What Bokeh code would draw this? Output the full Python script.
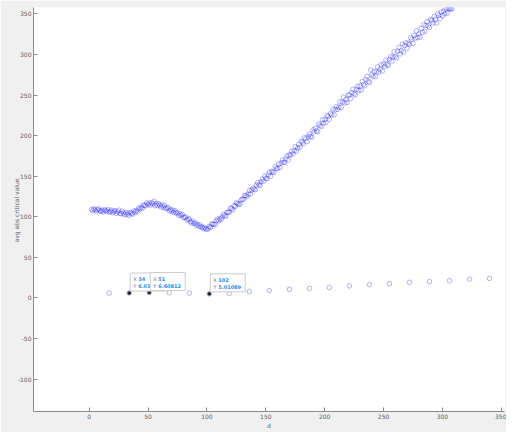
from bokeh.plotting import figure
from bokeh.models import FixedTicker
from bokeh.embed import file_html
from bokeh.resources import INLINE
from bokeh.core.properties import value

# ---------------- data ----------------
crit_vals = [
    109.2, 107.6, 109.7, 108.5, 106.8, 108.9, 109.7, 107.4, 106.7, 108.1,
    105.9, 108.6, 107.7, 106.7, 109.1, 105.8, 106.7, 108.2, 105.0, 106.9,
    107.4, 104.2, 106.2, 108.2, 104.5, 103.7, 106.8, 104.5, 102.6, 105.3,
    102.8, 104.7, 101.8, 105.2, 104.2, 103.3, 107.1, 105.4, 107.9, 106.6,
    110.5, 109.3, 111.8, 110.5, 114.3, 114.3, 113.5, 117.0, 115.1, 116.9,
    114.3, 117.3, 115.9, 119.0, 113.7, 116.3, 113.8, 116.1, 114.5, 111.9,
    114.5, 111.8, 113.8, 110.0, 110.8, 111.4, 107.3, 108.9, 106.9, 108.3,
    105.2, 107.4, 104.7, 105.1, 101.8, 103.7, 101.5, 102.9, 99.0, 99.7,
    99.5, 96.1, 97.2, 97.2, 93.9, 92.2, 94.3, 91.9, 92.3, 89.6,
    90.8, 88.2, 89.9, 87.2, 87.6, 85.3, 86.8, 85.2, 84.3, 85.6,
    88.0, 87.1, 91.3, 90.8, 90.9, 90.6, 95.2, 97.1, 95.1, 97.7,
    96.8, 100.0, 103.1, 101.2, 100.8, 105.5, 105.8, 105.5, 110.6, 110.2,
    108.4, 113.6, 112.8, 117.3, 116.4, 115.2, 115.7, 120.9, 121.3, 121.6,
    126.2, 126.1, 124.8, 127.8, 132.5, 128.2, 132.9, 135.4, 133.9, 133.3,
    138.9, 142.1, 139.6, 138.6, 143.2, 146.2, 143.7, 150.3, 147.7, 147.1,
    151.4, 154.8, 149.9, 156.1, 155.3, 154.7, 162.2, 159.9, 159.6, 164.9,
    160.7, 166.4, 170.0, 167.1, 166.8, 171.4, 174.9, 170.1, 176.5, 176.1,
    180.8, 177.6, 181.5, 186.6, 180.8, 184.8, 188.9, 185.7, 193.3, 191.9,
    189.9, 197.5, 196.3, 192.6, 198.6, 201.6, 199.0, 198.1, 207.2, 204.8,
    208.9, 205.9, 204.9, 214.2, 212.4, 211.2, 219.5, 215.7, 219.6, 216.1,
    224.8, 223.4, 220.3, 227.3, 225.8, 232.9, 225.7, 232.1, 235.7, 232.3,
    235.1, 241.8, 234.8, 241.3, 247.5, 240.3, 244.6, 241.0, 250.2, 250.0,
    245.7, 253.1, 257.3, 251.7, 250.4, 257.0, 261.0, 255.8, 261.1, 256.1,
    266.9, 263.3, 261.5, 269.3, 273.2, 267.0, 265.6, 281.0, 274.9, 272.9,
    279.2, 272.8, 278.9, 284.7, 278.2, 281.8, 287.5, 279.7, 288.3, 285.4,
    293.4, 287.7, 286.3, 293.9, 297.7, 291.8, 297.0, 303.4, 297.3, 295.7,
    304.2, 308.8, 300.8, 304.7, 313.1, 303.0, 311.1, 314.5, 307.8, 313.9,
    312.5, 320.9, 318.8, 313.6, 323.5, 320.2, 329.0, 320.9, 325.6, 321.5,
    332.2, 327.4, 336.8, 328.7, 335.9, 340.4, 335.3, 333.3, 342.9, 341.8,
    338.9, 346.9, 343.4, 338.8, 350.4, 348.2, 344.2, 352.5, 347.9, 353.6,
    350.2, 356.3, 351.3, 356.6, 356.4, 356.1, 356.5,
]
crit_d = list(range(2, 2 + len(crit_vals)))

sparse_d = [17, 34, 51, 68, 85, 102, 119, 136, 153, 170,
            187, 204, 221, 238, 255, 272, 289, 306, 323, 340]
sparse_vals = [6.02, 6.03179, 6.60812, 6.41, 6.05, 5.01089, 5.52, 7.9, 9.1, 10.6,
               11.7, 13.0, 14.8, 16.4, 17.6, 19.2, 20.1, 21.2, 23.1, 24.0]

tip_d = [34, 51, 102]
tip_v = [6.03179, 6.60812, 5.01089]

x_ticks = [0, 50, 100, 150, 200, 250, 300, 350]
y_ticks = [-100, -50, 0, 50, 100, 150, 200, 250, 300, 350]

x_label = "d"
y_label = "avg abs critical value."

# ---------------- layout ----------------
X0, X1 = -47.3, 352.7
Y0, Y1 = -140.0, 358.0
W, H = 506, 432
ML, MR, MT, MB = 33, 2, 7, 21
FW = W - ML - MR
FH = H - MT - MB
SX = FW / (X1 - X0)   # px per x unit
SY = FH / (Y1 - Y0)   # px per y unit

FONT = "DejaVu Sans"
AXC = "#8a8a8a"
TXC = "#606060"

p = figure(width=W, height=H, x_range=(X0, X1), y_range=(Y0, Y1),
           output_backend="svg", toolbar_location=None,
           min_border_left=ML, min_border_right=MR,
           min_border_top=MT, min_border_bottom=MB)
p.border_fill_color = "#f0f0f0"
p.background_fill_color = "white"
p.outline_line_color = None
p.grid.visible = False

for ax in (p.xaxis[0], p.yaxis[0]):
    ax.axis_line_color = AXC
    ax.axis_line_width = 1
    ax.major_tick_line_color = AXC
    ax.major_tick_in = 4
    ax.major_tick_out = 0
    ax.minor_tick_line_color = None
    ax.major_label_text_font = FONT
    ax.major_label_text_font_size = "6px"
    ax.major_label_text_color = TXC
    ax.axis_label_text_font = FONT
    ax.axis_label_text_font_size = "6px"
    ax.axis_label_text_font_style = "normal"
    ax.axis_label_text_color = TXC

p.xaxis.ticker = FixedTicker(ticks=x_ticks)
p.yaxis.ticker = FixedTicker(ticks=y_ticks)
p.xaxis.major_label_overrides = {t: str(t) for t in x_ticks}
p.yaxis.major_label_overrides = {t: str(t) for t in y_ticks}
p.xaxis.major_label_standoff = 2
p.yaxis.major_label_standoff = 2
p.xaxis.axis_label = x_label
p.yaxis.axis_label = y_label
p.xaxis.axis_label_standoff = 0
p.yaxis.axis_label_standoff = -5

p.scatter(crit_d, crit_vals, marker="circle", size=4.6, fill_color=None,
          line_color="#1a1aff", line_alpha=0.55, line_width=0.6)
p.scatter(sparse_d, sparse_vals, marker="circle", size=4.6, fill_color=None,
          line_color="#1a1aff", line_alpha=0.55, line_width=0.6)

p.scatter(tip_d, tip_v, marker="circle", size=2.8, color="#222222")

# data tips
for d, v in zip(tip_d, tip_v):
    p.quad(left=[d + 1 / SX], right=[d + 36 / SX],
           bottom=[v + 2 / SY], top=[v + 20 / SY],
           fill_color="white", line_color="#cccccc", line_width=1)
    p.text(x=[d, d], y=[v, v], text=["X", "Y"], x_offset=4,
           y_offset=[-14, -7], text_font=value(FONT), text_font_size="5px",
           text_color="#777777", text_baseline="middle", text_align="left")
    p.text(x=[d, d], y=[v, v], text=[str(d), f"{v:g}"], x_offset=9,
           y_offset=[-14, -7], text_font=value(FONT), text_font_size="5px",
           text_font_style="bold",
           text_color="#1a8cff", text_baseline="middle", text_align="left")

open("out.html", "w").write(file_html(p, INLINE))
